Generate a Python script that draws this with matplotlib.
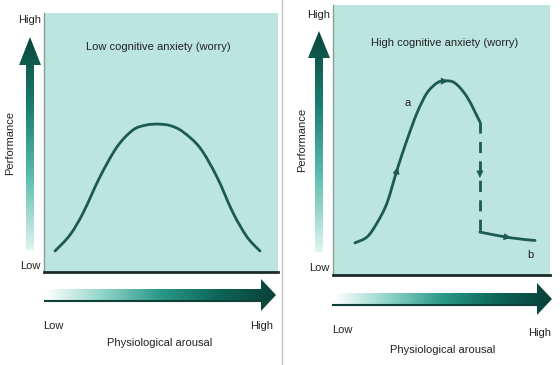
import numpy as np
import matplotlib
matplotlib.use("Agg")
import matplotlib.pyplot as plt
from matplotlib.colors import LinearSegmentedColormap
from matplotlib.patches import Polygon, PathPatch
from matplotlib.path import Path

plt.rcParams['font.family'] = ['Liberation Sans Narrow', 'Liberation Sans', 'DejaVu Sans']

# arousal / performance, both on a 0-100 scale
low_arousal = [4.7, 11.1, 16.7, 23.9, 31.2, 38.0, 43.5, 48.7, 54.0, 59.4, 66.7, 73.9, 80.8, 86.8, 92.3]
low_perf = [8.1, 14.3, 22.8, 36.7, 48.3, 54.8, 56.7, 57.1, 56.5, 54.1, 47.9, 36.7, 22.8, 13.5, 8.1]

high_arousal_a = [10.1, 15.7, 20.3, 24.9, 29.5, 34.1, 38.7, 43.3, 47.9, 51.6, 56.2, 61.8, 67.7]
high_perf_a = [11.9, 14.1, 19.3, 26.7, 38.9, 50.0, 60.0, 67.4, 71.1, 71.9, 71.1, 65.9, 56.7]
drop_arousal = [67.7, 67.7]
drop_perf = [56.7, 15.9]
high_arousal_b = [67.7, 81.6, 93.1]
high_perf_b = [15.9, 13.8, 12.8]

W, H = 560, 365
BG = '#bce5df'
LINE = '#1c5a52'
TXT = '#222222'
fs = 8

fig = plt.figure(figsize=(W / 100, H / 100), dpi=100)
fig.patch.set_facecolor('white')

# full-figure axes in pixel coords for arrows and labels
deco = fig.add_axes([0, 0, 1, 1])
deco.set_xlim(0, W)
deco.set_ylim(H, 0)
deco.axis('off')

cmap_v = LinearSegmentedColormap.from_list('v', ['#dff4f0', '#5fbfb0', '#1a8070', '#0a463c'])
cmap_h = LinearSegmentedColormap.from_list('h', ['#ffffff', '#8fd4c8', '#2a9888', '#0d6658', '#0a4038'])


def grad_arrow(poly, extent, cmap, vertical):
    patch = Polygon(poly, closed=True, facecolor='none', edgecolor='none')
    deco.add_patch(patch)
    if vertical:
        g = np.linspace(1, 0, 200).reshape(-1, 1)
    else:
        g = np.linspace(0, 1, 200).reshape(1, -1)
    im = deco.imshow(g, cmap=cmap, extent=extent, aspect='auto', origin='upper')
    im.set_clip_path(patch)


def v_arrow(cx, y0, ybase, ytip):
    poly = [(cx - 4, y0), (cx + 4, y0), (cx + 4, ybase), (cx + 11, ybase),
            (cx, ytip), (cx - 11, ybase), (cx - 4, ybase)]
    grad_arrow(poly, (cx - 12, cx + 12, y0, ytip), cmap_v, True)


def h_arrow(x0, xbase, xtip, cy):
    poly = [(x0, cy - 6), (xbase, cy - 6), (xbase, cy - 16), (xtip, cy),
            (xbase, cy + 16), (xbase, cy + 7), (x0, cy + 7)]
    grad_arrow(poly, (x0, xtip, cy + 17, cy - 17), cmap_h, False)
    deco.plot([x0, xbase], [cy + 6, cy + 6], color='#0e3f38', lw=1.5)


v_arrow(30, 250, 65, 37)
v_arrow(319, 252, 58, 31)
h_arrow(45, 261, 276, 295)
h_arrow(333, 537, 552, 299)

# separator between the two panels
deco.plot([282, 282], [0, H], color='#c4c4c4', lw=1)

for x, y, s in [(30, 20, 'High'), (30, 266, 'Low'), (319, 15, 'High'), (319, 268, 'Low'),
                (53, 326, 'Low'), (262, 326, 'High'), (342, 330, 'Low'), (540, 333, 'High')]:
    deco.text(x, y, s, ha='center', va='center', fontsize=fs, color=TXT)
deco.text(160, 343, 'Physiological arousal', ha='center', va='center', fontsize=fs, color=TXT)
deco.text(443, 350, 'Physiological arousal', ha='center', va='center', fontsize=fs, color=TXT)
deco.text(10, 143, 'Performance', ha='center', va='center', rotation=90, fontsize=fs, color=TXT)
deco.text(302, 140, 'Performance', ha='center', va='center', rotation=90, fontsize=fs, color=TXT)


def smooth_curve(ax, xs, ys, **kw):
    # Catmull-Rom through the read points, handed to matplotlib as cubic Bezier segments
    p = np.column_stack([xs, ys]).astype(float)
    pts = np.vstack([p[0], p, p[-1]])
    verts = [tuple(p[0])]
    codes = [Path.MOVETO]
    for i in range(1, len(pts) - 2):
        p0, p1, p2, p3 = pts[i - 1], pts[i], pts[i + 1], pts[i + 2]
        verts += [tuple(p1 + (p2 - p0) / 6), tuple(p2 - (p3 - p1) / 6), tuple(p2)]
        codes += [Path.CURVE4] * 3
    ax.add_patch(PathPatch(Path(verts, codes), facecolor='none', edgecolor=LINE,
                           capstyle='round', **kw))


def panel(left, top, right, bottom):
    ax = fig.add_axes([left / W, 1 - bottom / H, (right - left) / W, (bottom - top) / H])
    ax.set_facecolor(BG)
    ax.set_xlim(0, 100)
    ax.set_ylim(0, 100)
    ax.set_xticks([])
    ax.set_yticks([])
    for s in ['top', 'right']:
        ax.spines[s].set_visible(False)
    ax.spines['left'].set_color('#8a9a98')
    ax.spines['left'].set_linewidth(1)
    ax.spines['bottom'].set_color('#1e2a28')
    ax.spines['bottom'].set_linewidth(2)
    return ax


ax1 = panel(44, 13, 278, 272)
smooth_curve(ax1, low_arousal, low_perf, lw=2)
ax1.text(48.7, 87, 'Low cognitive anxiety (worry)', ha='center', va='center', fontsize=fs, color=TXT)

ax2 = panel(333, 5, 550, 275)
smooth_curve(ax2, high_arousal_a, high_perf_a, lw=2)
ax2.plot(drop_arousal, drop_perf, color=LINE, lw=2, linestyle=(0, (4, 3)))
smooth_curve(ax2, high_arousal_b, high_perf_b, lw=2)
ax2.text(51.6, 86, 'High cognitive anxiety (worry)', ha='center', va='center', fontsize=fs, color=TXT)
ax2.text(34.6, 63.7, 'a', ha='center', va='center', fontsize=fs, color=TXT)
ax2.text(90.8, 7.4, 'b', ha='center', va='center', fontsize=fs, color=TXT)

# small direction arrowheads on the curve
for (x0, y0), (x1, y1) in [((28.3, 34.5), (29.8, 40.0)),
                           ((48.5, 71.8), (53.0, 71.8)),
                           ((67.7, 42.0), (67.7, 36.0)),
                           ((77.0, 14.5), (82.0, 13.7))]:
    ax2.annotate('', xy=(x1, y1), xytext=(x0, y0),
                 arrowprops=dict(arrowstyle='-|>', color=LINE, lw=0.5, mutation_scale=11,
                                 shrinkA=0, shrinkB=0))

fig.savefig('out.png', dpi=100)
